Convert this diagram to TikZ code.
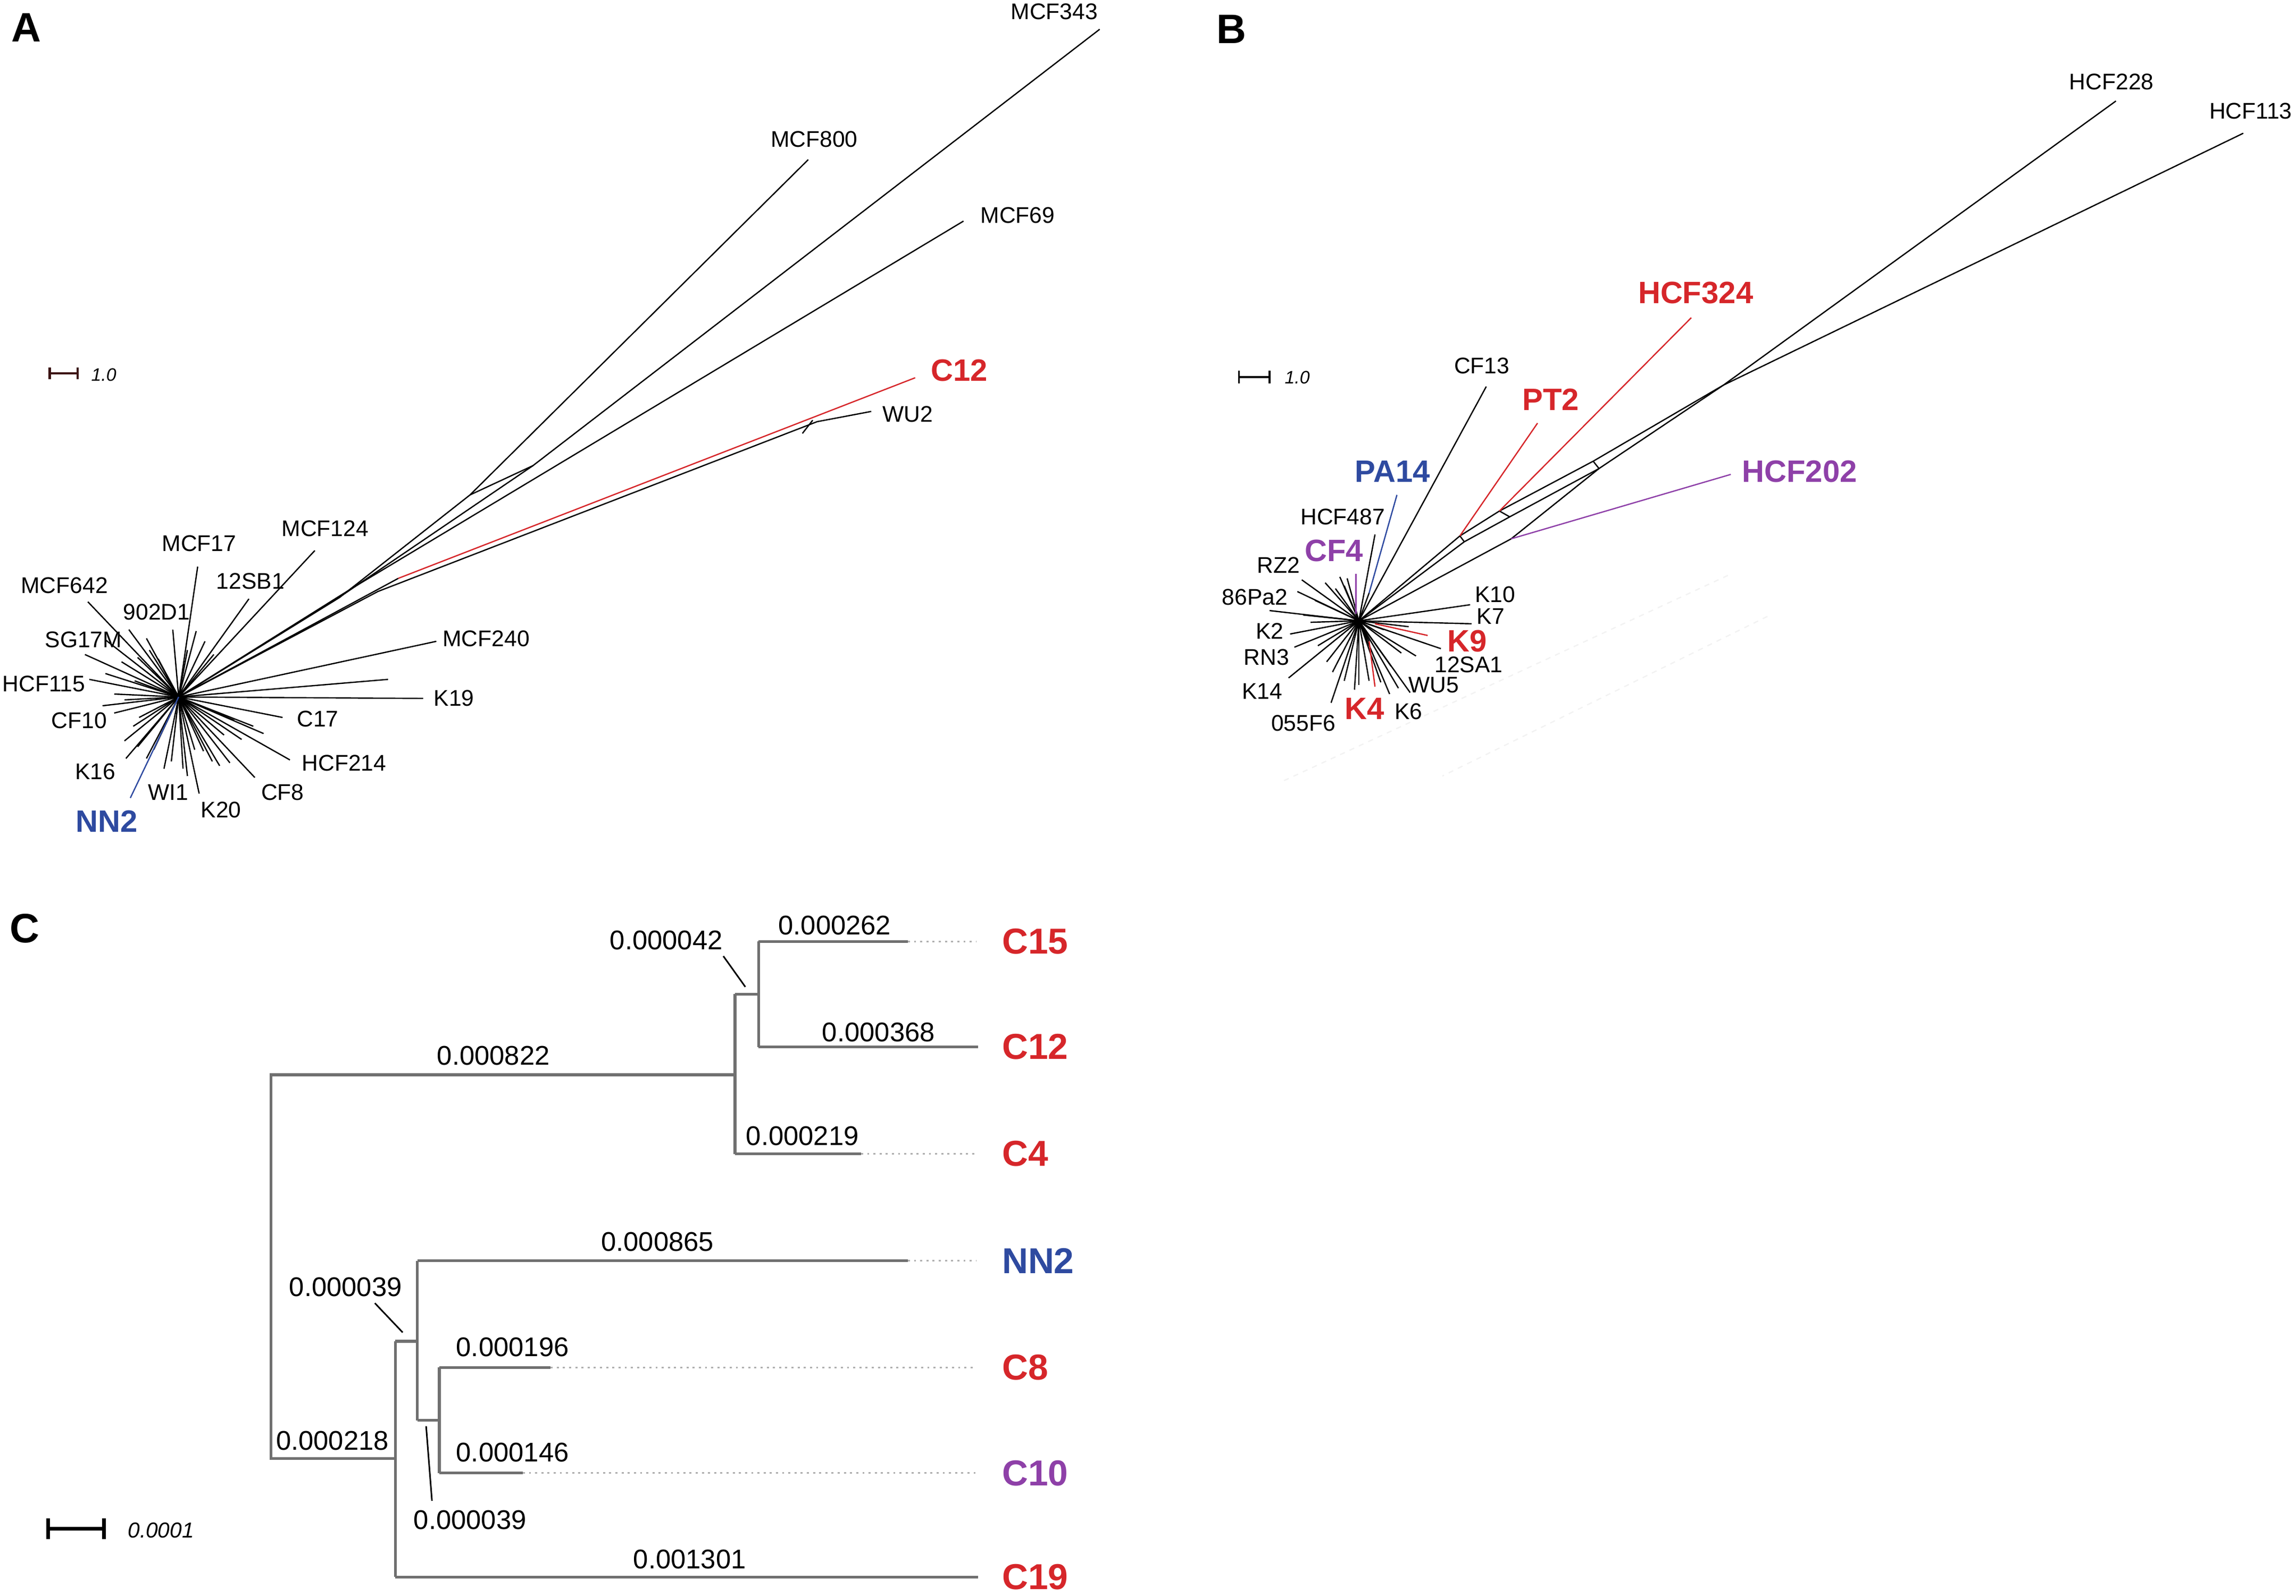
\documentclass[tikz,border=0pt]{standalone}
\usepackage{fontspec}
\setmainfont{Liberation Sans}
\usepackage{tikz}
\definecolor{tipred}{RGB}{214,38,42}
\definecolor{tipblue}{RGB}{46,74,160}
\definecolor{tippurple}{RGB}{142,64,168}
\definecolor{treegray}{RGB}{112,112,112}
\definecolor{dotgray}{RGB}{175,175,175}
\definecolor{barbrown}{RGB}{60,20,20}
\tikzset{
  lab/.style={font=\fontsize{8.8}{10}\selectfont, inner sep=0pt},
  blab/.style={font=\fontsize{12}{14}\selectfont\bfseries, inner sep=0pt},
  tiplab/.style={font=\fontsize{14}{16}\selectfont\bfseries, inner sep=0pt, anchor=west},
  num/.style={font=\fontsize{10.5}{12}\selectfont, inner sep=0pt},
  panel/.style={font=\fontsize{16}{18}\selectfont\bfseries, inner sep=0pt},
  barlab/.style={inner sep=0pt, anchor=west},
  net/.style={line width=0.5pt, line join=round},
  branch/.style={draw=treegray, line width=1.1pt},
  ext/.style={draw=dotgray, line width=0.7pt, dash pattern=on 0.8pt off 1.6pt},
}

\begin{document}
\begin{tikzpicture}[x=0.2mm, y=-0.2mm]
    \useasboundingbox (0,0) rectangle (1568,1090);

    % A
    \node[panel] (pA) at (18,19) {A};
    \coordinate (cA) at (122,476);
    \draw[barbrown, line width=0.9pt] (34,251) -- (34,259) (34,255) -- (53,255) (53,251) -- (53,259);
    \node[barlab, font=\fontsize{7}{8}\selectfont\itshape] (sA) at (62,256) {1.0};
    \foreach \x/\y in {58/447, 83/452, 72/460, 94/449, 102/444, 108/450, 128/444, 134/431,
                       88/430, 100/436, 140/438, 146/447, 78/474, 85/478, 70/482, 91/496,
                       85/506, 94/510, 100/518, 105/512, 117/520, 125/525, 133/512, 139/513,
                       128/530, 150/523, 157/521, 153/502, 173/496, 180/501, 165/505, 92/465,
                       95/490, 160/492, 145/520, 265/464}
        \draw[net] (cA) -- (\x,\y);
    \foreach \n/\ex/\ey/\lx/\ly in {MCF124/215/376/222/361, MCF17/135/387/136/371,
                                    12SB1/170/409/171/397, MCF642/60/411/44/400,
                                    902D1/118/430/107/418, SG17M/72/437/57/437,
                                    HCF115/61/464/30/467, MCF240/298/438/332/436,
                                    K19/289/477/310/477, CF10/78/487/54/492,
                                    C17/193/490/217/491, HCF214/198/519/235/521,
                                    K16/86/518/65/527, WI1/112/525/115/541,
                                    K20/136/542/151/553, CF8/174/531/193/541}{
        \coordinate (ae\n) at (\ex,\ey);
        \node[lab] (al\n) at (\lx,\ly) {\n};
        \draw[net] (cA) -- (ae\n);
    }
    \coordinate (aeMCF343) at (751,20);
    \coordinate (aeMCF800) at (552,109);
    \coordinate (aeMCF69) at (658,151);
    \coordinate (aeC12) at (625,258);
    \coordinate (aeWU2) at (595,281);
    \coordinate (aeNN2) at (89,545);
    \node[lab] (alMCF343) at (720,8) {MCF343};
    \node[lab] (alMCF800) at (556,95) {MCF800};
    \node[lab] (alMCF69) at (695,147) {MCF69};
    \node[lab] (alWU2) at (620,283) {WU2};
    \node[blab, text=tipred] (alC12) at (655,253) {C12};
    \node[blab, text=tipblue] (alNN2) at (73,561) {NN2};
    \coordinate (a800) at (321,338);
    \coordinate (a343) at (364,318);
    \coordinate (aC12) at (272,395);
    \coordinate (aWU2) at (258,404);
    \draw[net] (cA) -- (232,408) -- (a800) -- (aeMCF800);
    \draw[net] (cA) -- (236,405) -- (a343) -- (aeMCF343);
    \draw[net] (cA) -- (240,402) -- (aeMCF69);
    \draw[net] (a800) -- (a343);
    \draw[net] (cA) -- (aC12);
    \draw[net] (cA) -- (aWU2) -- (558,288) -- (aeWU2);
    \draw[net] (548,296) -- (555,287);
    \draw[net, tipred] (aC12) -- (aeC12);
    \draw[net, tipblue] (cA) -- (aeNN2);

    % B
    \node[panel] (pB) at (841,20) {B};
    \coordinate (cB) at (928,424);
    \draw[line width=0.7pt] (846,253) -- (846,262) (846,257.5) -- (867,257.5) (867,253) -- (867,262);
    \node[barlab, font=\fontsize{7}{8}\selectfont\itshape] (sB) at (877,258) {1.0};
    \draw[black!5, line width=0.5pt, dash pattern=on 2pt off 2pt] (1180,393) -- (875,534) (1207,421) -- (985,530);
    \foreach \x/\y in {867/417, 895/425, 915/394, 920/395, 900/441, 910/459, 918/465, 928/468,
                       943/466, 967/448, 905/398, 898/410, 890/420, 950/455, 957/446, 912/402,
                       935/465, 925/471, 906/452, 945/430, 962/428, 955/470, 918/400}
        \draw[net] (cB) -- (\x,\y);
    \foreach \n/\ex/\ey/\lx/\ly in {RZ2/889/396/873/386, 86Pa2/886/404/857/408,
                                    K2/881/433/867/431, RN3/884/442/865/449,
                                    K14/880/463/862/472, 055F6/909/480/890/494,
                                    K6/949/474/962/486, WU5/963/473/979/468,
                                    12SA1/984/443/1003/454, K7/1005/426/1018/421,
                                    K10/1004/413/1021/406, HCF487/939/365/917/353,
                                    CF13/1015/264/1012/250}{
        \coordinate (be\n) at (\ex,\ey);
        \node[lab] (bl\n) at (\lx,\ly) {\n};
        \draw[net] (cB) -- (be\n);
    }
    \coordinate (beHCF228) at (1445,69);
    \coordinate (beHCF113) at (1532,91);
    \coordinate (beHCF324) at (1155,217);
    \coordinate (bePT2) at (1050,289);
    \coordinate (beHCF202) at (1182,324);
    \coordinate (bePA14) at (954,338);
    \coordinate (beCF4) at (926,392);
    \coordinate (beK9) at (975,434);
    \coordinate (beK4) at (939,469);
    \node[lab] (blHCF228) at (1442,56) {HCF228};
    \node[lab] (blHCF113) at (1537,76) {HCF113};
    \node[blab, text=tipred] (blHCF324) at (1158,200) {HCF324};
    \node[blab, text=tipred] (blPT2) at (1059,273) {PT2};
    \node[blab, text=tippurple] (blHCF202) at (1229,322) {HCF202};
    \node[blab, text=tipblue] (blPA14) at (951,322) {PA14};
    \node[blab, text=tippurple] (blCF4) at (911,376) {CF4};
    \node[blab, text=tipred] (blK9) at (1002,438) {K9};
    \node[blab, text=tipred] (blK4) at (932,484) {K4};
    \coordinate (b1) at (997,366);
    \coordinate (b2) at (1024,349);
    \coordinate (b3) at (1088,315);
    \coordinate (b4) at (1000,370);
    \coordinate (b5) at (1031,353);
    \coordinate (b6) at (1092,320);
    \coordinate (bx) at (1177,263);
    \coordinate (b202) at (1032,368);
    \coordinate (bPA14) at (935,405);
    \coordinate (bCF4) at (926,419);
    \coordinate (bK9) at (939,426);
    \coordinate (bK4) at (935,438);
    \draw[net] (cB) -- (b1) -- (b2) -- (b3) -- (bx) -- (beHCF228);
    \draw[net] (cB) -- (b4) -- (b5) -- (b6) -- (bx) -- (beHCF113);
    \draw[net] (cB) -- (b202) -- (b6);
    \draw[net] (b1) -- (b4) (b2) -- (b5) (b3) -- (b6);
    \draw[net] (cB) -- (bPA14) (cB) -- (bK4);
    \draw[net, tipred] (b1) -- (bePT2);
    \draw[net, tipred] (b2) -- (beHCF324);
    \draw[net, tipred] (bK9) -- (beK9);
    \draw[net, tipred] (bK4) -- (beK4);
    \draw[net, tippurple] (b202) -- (beHCF202);
    \draw[net, tippurple] (bCF4) -- (beCF4);
    \draw[net, tipblue] (bPA14) -- (bePA14);

    % C
    \node[panel] (pC) at (17,634) {C};
    \draw[line width=1.4pt] (33,1037) -- (33,1051) (33,1044) -- (71,1044) (71,1037) -- (71,1051);
    \node[barlab, font=\fontsize{8.4}{10}\selectfont\itshape] (sC) at (87,1045) {0.0001};
    \coordinate (r1) at (185,734);
    \coordinate (r2) at (185,996);
    \coordinate (j1) at (502,734);
    \coordinate (j1t) at (502,679);
    \coordinate (j1b) at (502,788);
    \coordinate (j2) at (518,679);
    \coordinate (j2t) at (518,643);
    \coordinate (j2b) at (518,715);
    \coordinate (k1) at (270,996);
    \coordinate (k1t) at (270,916);
    \coordinate (k1b) at (270,1077);
    \coordinate (k2) at (285,916);
    \coordinate (k2t) at (285,861);
    \coordinate (k2b) at (285,970);
    \coordinate (k3) at (300,970);
    \coordinate (k3t) at (300,934);
    \coordinate (k3b) at (300,1006);
    \coordinate (mC15) at (620,643);
    \coordinate (mC4) at (588,788);
    \coordinate (mNN2) at (620,861);
    \coordinate (mC8) at (376,934);
    \coordinate (mC10) at (357,1006);
    \node[tiplab, text=tipred] (tC15) at (684,643) {C15};
    \node[tiplab, text=tipred] (tC12) at (684,715) {C12};
    \node[tiplab, text=tipred] (tC4) at (684,788) {C4};
    \node[tiplab, text=tipblue] (tNN2) at (684,861) {NN2};
    \node[tiplab, text=tipred] (tC8) at (684,934) {C8};
    \node[tiplab, text=tippurple] (tC10) at (684,1006) {C10};
    \node[tiplab, text=tipred] (tC19) at (684,1077) {C19};
    \draw[branch] (j1) -- (r1) -- (r2) -- (k1);
    \draw[branch] (j1t) -- (j1b) (j1t) -- (j2) (j2t) -- (j2b);
    \draw[branch] (k1t) -- (k1b) (k1t) -- (k2) (k2t) -- (k2b) (k2b) -- (k3) (k3t) -- (k3b);
    \draw[branch] (j2t) -- (mC15) (j1b) -- (mC4) (k2t) -- (mNN2) (k3t) -- (mC8) (k3b) -- (mC10);
    \draw[branch, shorten >=3.2mm] (j2b) -- (tC12.west);
    \draw[branch, shorten >=3.2mm] (k1b) -- (tC19.west);
    \foreach \n in {C15, C4, NN2, C8, C10}
        \draw[ext, shorten >=3.4mm] (m\n) -- (t\n.west);
    \node[num] (n262) at (570,632) {0.000262};
    \node[num] (n042) at (455,642) {0.000042};
    \node[num] (n368) at (600,705) {0.000368};
    \node[num] (n822) at (337,721) {0.000822};
    \node[num] (n219) at (548,776) {0.000219};
    \node[num] (n865) at (449,848) {0.000865};
    \node[num] (n039a) at (236,879) {0.000039};
    \node[num] (n196) at (350,920) {0.000196};
    \node[num] (n218) at (227,984) {0.000218};
    \node[num] (n146) at (350,992) {0.000146};
    \node[num] (n039b) at (321,1038) {0.000039};
    \node[num] (n1301) at (471,1065) {0.001301};
    \coordinate (q042) at (494,653);
    \coordinate (p042) at (509,674);
    \coordinate (q039a) at (256,890);
    \coordinate (p039a) at (275,910);
    \coordinate (q039b) at (295,1025);
    \coordinate (p039b) at (291,974);
    \draw[line width=0.6pt] (q042) -- (p042) (q039a) -- (p039a) (q039b) -- (p039b);
\end{tikzpicture}
\end{document}
